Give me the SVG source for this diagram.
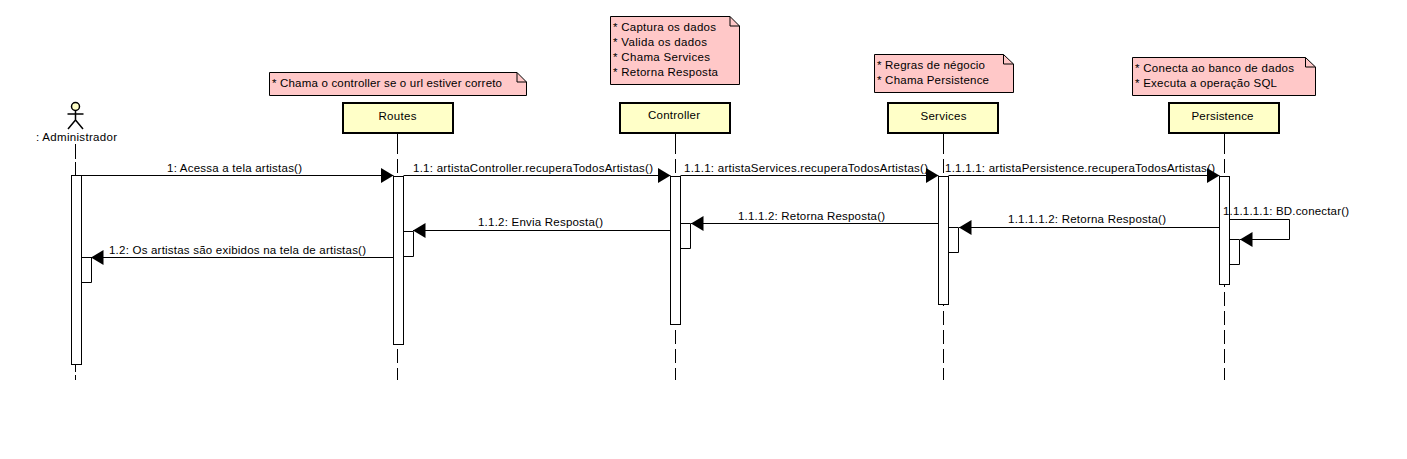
<svg xmlns="http://www.w3.org/2000/svg" width="1407" height="459" viewBox="0 0 1407 459">
<style>
text{font-family:"Liberation Sans",Arial,sans-serif;font-size:11.5px;fill:#000}
.c{text-anchor:middle}
.box{fill:#ffffc8;stroke:#000;stroke-width:2}
.note{fill:#ffc8c8;stroke:#000;stroke-width:1}
.fold{fill:none;stroke:#000;stroke-width:1}
.act{fill:#fff;stroke:#000;stroke-width:1}
.life{stroke:#000;stroke-width:1;stroke-dasharray:14 5;fill:none}
.seg{stroke:#000;stroke-width:1;fill:none}
.msg{stroke:#000;stroke-width:1;fill:none}
.actor{stroke:#000;stroke-width:1.5;fill:none}
.head{stroke:#000;stroke-width:1.5;fill:#ffffc8}
</style>
<defs>
<marker id="a" markerUnits="userSpaceOnUse" markerWidth="13" markerHeight="15" refX="12.500" refY="7.500" orient="auto"><path d="M0 0L12.500 7.500L0 15Z" fill="#000"/></marker>
</defs>
<rect width="1407" height="459" fill="#fff"/>
<g id="lifelines">
<path class="seg" d="M75.500 144V159M75.500 162V175M75.500 365V372M75.500 375V380"/>
<path class="seg" d="M397.500 133V154M675.500 133V154M943.500 133V154M1224.500 133V154"/>
<path class="life" d="M397.500 159V380"/>
<path class="life" d="M675.500 159V380"/>
<path class="life" d="M943.500 159V380"/>
<path class="life" d="M1224.500 159V380"/>
</g>
<g id="note-routes">
<path class="note" d="M269.500 72.500H517L526.500 82V95.500H269.500Z"/><path class="fold" d="M517 72.500V82H526.500"/>
<text x="272" y="87" textLength="230">* Chama o controller se o url estiver correto</text>
</g>
<g id="note-controller">
<path class="note" d="M610.500 16.500H730L739.500 26V84.500H610.500Z"/><path class="fold" d="M730 16.500V26H739.500"/>
<text x="613" y="31" textLength="103">* Captura os dados</text>
<text x="613" y="46" textLength="94">* Valida os dados</text>
<text x="613" y="61" textLength="97">* Chama Services</text>
<text x="613" y="76" textLength="105">* Retorna Resposta</text>
</g>
<g id="note-services">
<path class="note" d="M874.500 54.500H1003.500L1013.500 64V92.500H874.500Z"/><path class="fold" d="M1003.500 54.500V64H1013.500"/>
<text x="877" y="69" textLength="108">* Regras de négocio</text>
<text x="877" y="84" textLength="112">* Chama Persistence</text>
</g>
<g id="note-persistence">
<path class="note" d="M1132.500 57.500H1305.500L1315.500 67V95.500H1132.500Z"/><path class="fold" d="M1305.500 57.500V67H1315.500"/>
<text x="1135" y="72" textLength="159">* Conecta ao banco de dados</text>
<text x="1135" y="87" textLength="142">* Executa a operação SQL</text>
</g>
<g id="actor-administrador">
<circle class="head" cx="75.500" cy="106.500" r="4"/>
<path class="actor" d="M75.500 110.500V120M67.500 114H83.500M75.500 120L68 129M75.500 120L83 129"/>
<text x="36" y="141" textLength="81">: Administrador</text>
</g>
<g id="routes">
<rect class="box" x="343" y="103" width="110" height="30"/>
<text class="c" x="397.500" y="120" textLength="38">Routes</text>
</g>
<g id="controller">
<rect class="box" x="620" y="103" width="110" height="30"/>
<text class="c" x="674" y="119" textLength="52">Controller</text>
</g>
<g id="services">
<rect class="box" x="888" y="103" width="110" height="30"/>
<text class="c" x="943.500" y="120" textLength="46">Services</text>
</g>
<g id="persistence">
<rect class="box" x="1169" y="103" width="110" height="30"/>
<text class="c" x="1222.500" y="120" textLength="62">Persistence</text>
</g>
<g id="activations">
<rect class="act" x="71.500" y="175.500" width="10" height="189"/>
<rect class="act" x="393.500" y="176.500" width="10" height="168"/>
<rect class="act" x="670.500" y="176.500" width="10" height="148"/>
<rect class="act" x="938.500" y="176.500" width="10" height="128"/>
<rect class="act" x="1219.500" y="176.500" width="10" height="108"/>
</g>
<g id="connectors">
<path class="msg" marker-end="url(#a)" d="M81.500 175.500H393.500"/>
<path class="msg" marker-end="url(#a)" d="M403.500 175.500H670.500"/>
<path class="msg" marker-end="url(#a)" d="M680.500 175.500H938.500"/>
<path class="msg" marker-end="url(#a)" d="M948.500 175.500H1219.500"/>
<path class="msg" marker-end="url(#a)" d="M1229.500 219.500H1289.500V239.500H1240"/>
<path class="msg" d="M1229.500 239.500H1239.500V264.500H1229.500"/>
<path class="msg" marker-end="url(#a)" d="M1219.500 227.500H959"/>
<path class="msg" d="M948.500 227.500H958.500V252.500H948.500"/>
<path class="msg" marker-end="url(#a)" d="M938.500 223.500H691"/>
<path class="msg" d="M680.500 223.500H690.500V248.500H680.500"/>
<path class="msg" marker-end="url(#a)" d="M670.500 230.500H413"/>
<path class="msg" d="M403.500 231.500H413.500V256.500H403.500"/>
<path class="msg" marker-end="url(#a)" d="M393.500 257.500H91"/>
<path class="msg" d="M81.500 257.500H91.500V282.500H81.500"/>
</g>
<g id="labels">
<text x="167" y="172" textLength="135">1: Acessa a tela artistas()</text>
<text x="413" y="172" textLength="240">1.1: artistaController.recuperaTodosArtistas()</text>
<text x="684" y="172" textLength="244">1.1.1: artistaServices.recuperaTodosArtistas()</text>
<text x="945" y="172" textLength="270">1.1.1.1: artistaPersistence.recuperaTodosArtistas()</text>
<text x="1223" y="215" textLength="126">1.1.1.1.1: BD.conectar()</text>
<text x="1008" y="223" textLength="158">1.1.1.1.2: Retorna Resposta()</text>
<text x="738" y="220" textLength="147">1.1.1.2: Retorna Resposta()</text>
<text x="478" y="226" textLength="125">1.1.2: Envia Resposta()</text>
<text x="109" y="254" textLength="257">1.2: Os artistas são exibidos na tela de artistas()</text>
</g>
</svg>
